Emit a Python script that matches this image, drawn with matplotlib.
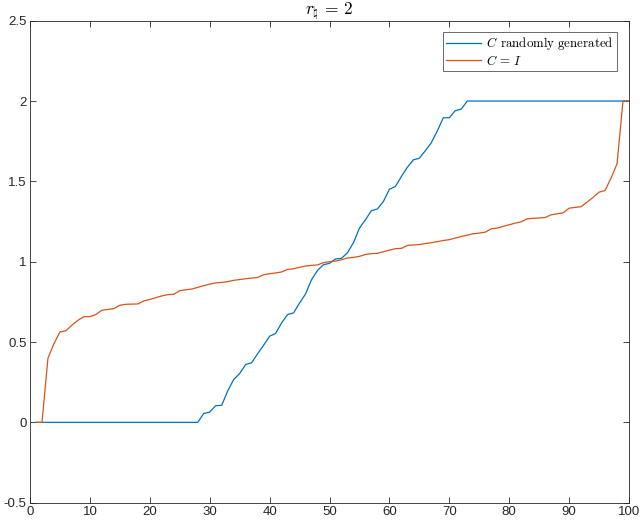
import matplotlib
matplotlib.use("Agg")
import matplotlib.pyplot as plt
import numpy as np

plt.rcParams['mathtext.fontset'] = 'cm'
plt.rcParams['font.family'] = ['Liberation Sans', 'DejaVu Sans']

x_index = list(range(1, 101))

c_random = [0.0] * 28 + [
    0.055, 0.064, 0.104, 0.106, 0.195, 0.267, 0.304, 0.360, 0.371, 0.427,
    0.480, 0.536, 0.553, 0.619, 0.671, 0.681, 0.743, 0.799, 0.888, 0.946,
    0.981, 0.990, 1.017, 1.021, 1.056, 1.118, 1.209, 1.261, 1.318, 1.328,
    1.375, 1.451, 1.468, 1.530, 1.588, 1.634, 1.644, 1.691, 1.741, 1.814,
    1.896, 1.896, 1.940, 1.950, 2.000,
] + [2.0] * 27

c_identity = [
    0.000, 0.000, 0.400, 0.490, 0.563, 0.570, 0.605, 0.635, 0.658, 0.658,
    0.671, 0.698, 0.703, 0.708, 0.729, 0.735, 0.736, 0.737, 0.756, 0.765,
    0.776, 0.787, 0.795, 0.797, 0.820, 0.825, 0.830, 0.840, 0.851, 0.860,
    0.868, 0.871, 0.876, 0.884, 0.889, 0.894, 0.898, 0.902, 0.919, 0.925,
    0.930, 0.936, 0.952, 0.956, 0.965, 0.973, 0.977, 0.980, 0.994, 1.000,
    1.004, 1.012, 1.023, 1.027, 1.033, 1.045, 1.050, 1.052, 1.062, 1.072,
    1.081, 1.083, 1.101, 1.104, 1.107, 1.113, 1.118, 1.125, 1.132, 1.137,
    1.147, 1.157, 1.165, 1.174, 1.178, 1.184, 1.205, 1.209, 1.220, 1.230,
    1.240, 1.248, 1.267, 1.270, 1.272, 1.275, 1.292, 1.298, 1.304, 1.333,
    1.338, 1.342, 1.371, 1.400, 1.433, 1.443, 1.520, 1.609, 2.000, 2.000,
]

x_ticks = [0, 10, 20, 30, 40, 50, 60, 70, 80, 90, 100]
y_ticks = [-0.5, 0, 0.5, 1, 1.5, 2, 2.5]
y_tick_labels = ['-0.5', '0', '0.5', '1', '1.5', '2', '2.5']

W, H = 640, 524
fig = plt.figure(figsize=(W / 100, H / 100), dpi=100)
ax = fig.add_axes([30 / W, 1 - 502.7 / H, (629 - 30) / W, (502.7 - 20.7) / H])

ax.plot(x_index, c_random, color='#0072BD', lw=0.9,
        label=r'$C\;\,\mathrm{randomly\ generated}$')
ax.plot(x_index, c_identity, color='#D95319', lw=0.9, label=r'$C\,=\,I$')

ax.set_xlim(0, 100)
ax.set_ylim(-0.5, 2.5)
ax.set_xticks(x_ticks)
ax.set_xticklabels([str(t) for t in x_ticks])
ax.set_yticks(y_ticks)
ax.set_yticklabels(y_tick_labels)
ax.tick_params(direction='in', length=4, width=0.6, colors='#262626',
               labelsize=9.5, top=True, right=True, pad=2.5)
for s in ax.spines.values():
    s.set_color('#262626')
    s.set_linewidth(0.6)

ax.set_title(r'$r_\natural\,=\,2$', fontsize=12.5, pad=4)

leg = ax.legend(loc='upper right', bbox_to_anchor=(0.98, 0.976), fontsize=9.3,
                frameon=True, fancybox=False, edgecolor='#262626',
                borderpad=0.25, handlelength=2.7, handletextpad=0.4,
                labelspacing=0.1, borderaxespad=0)
leg.get_frame().set_linewidth(0.6)

fig.savefig('out.png', dpi=100)
